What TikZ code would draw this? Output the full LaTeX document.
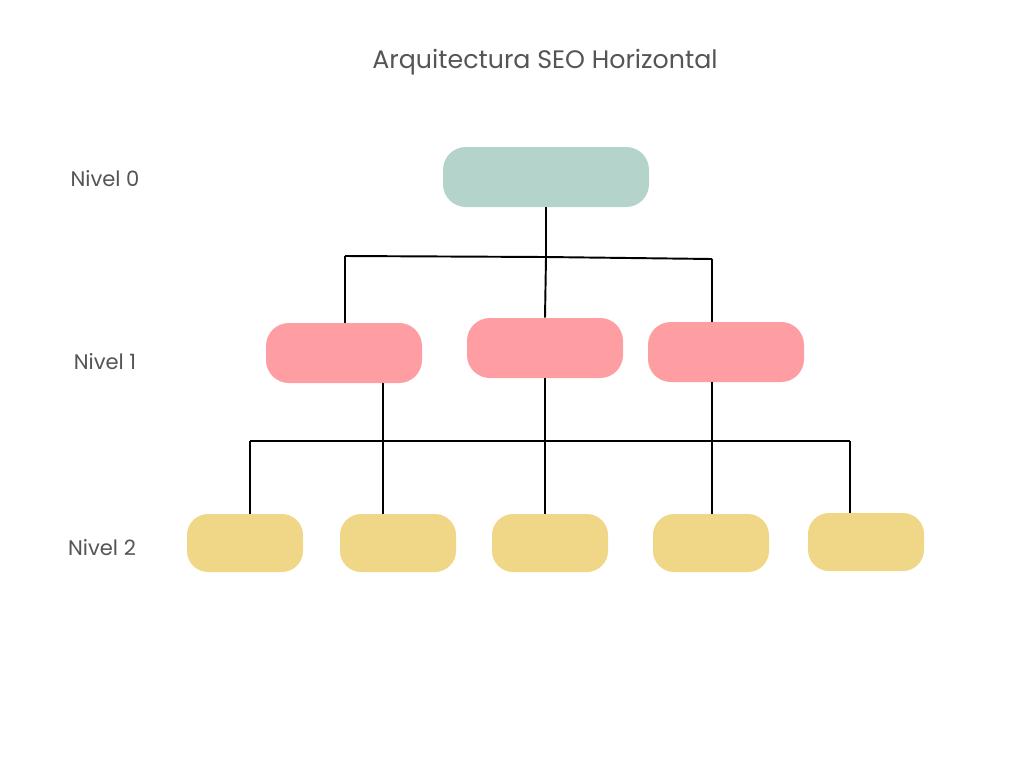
\documentclass[tikz,border=0pt]{standalone}
\usepackage{fontspec}
\setmainfont{Poppins}
\usepackage{xcolor}
\usetikzlibrary{positioning,calc}
\definecolor{tealbox}{HTML}{B4D4CB}
\definecolor{pinkbox}{HTML}{FF9EA2}
\definecolor{yellowbox}{HTML}{F0D687}
\definecolor{labelgray}{HTML}{555555}
\begin{document}
\begin{tikzpicture}[
    x=0.02cm, y=-0.02cm,
    pill/.style={rectangle, rounded corners=13pt, draw=none, minimum width=#1*0.02cm},
    top/.style={pill=206, fill=tealbox, minimum height=1.2cm},
    mid/.style={pill=156, fill=pinkbox, minimum height=1.2cm},
    low/.style={pill=116, fill=yellowbox, minimum height=1.16cm, rounded corners=12pt},
    level/.style={font=\large, text=labelgray},
    link/.style={line width=1.1pt, black}
]
    \useasboundingbox (0,0) rectangle (1024,768);
    % title and level labels
    \node[font=\Large, text=labelgray] (title) at (545,62) {Arquitectura SEO Horizontal};
    \node[level] (lv0) at (105,179) {Nivel 0};
    \node[level] (lv1) at (105,362) {Nivel 1};
    \node[level] (lv2) at (102,548) {Nivel 2};

    % boxes
    \node[top] (root) at (546,177) {};
    \node[mid] (m1) at (344,353) {};
    \node[mid] (m2) at (545,348) {};
    \node[mid] (m3) at (726,352) {};
    \node[low] (b1) at (245,543) {};
    \node[low] (b2) at (398,543) {};
    \node[low] (b3) at (550,543) {};
    \node[low] (b4) at (711,543) {};
    \node[low] (b5) at (866,542) {};

    % first bar
    \coordinate (j1) at (345,256);
    \coordinate (j2) at (546,257);
    \coordinate (j3) at (712,259);
    \draw[link] (root.south) -- (j2);
    \draw[link] (j1) -- (j2) -- (j3);
    \draw[link] (j1) -- (345,323);
    \draw[link] (j2) -- (m2.north);
    \draw[link] (j3) -- (712,322);

    % second bar
    \coordinate (k1) at (250,441);
    \coordinate (k5) at (850,441);
    \draw[link] (k1) -- (k5);
    \draw[link] (k1) -- (250,514);
    \draw[link] (383,383) -- (383,514);
    \draw[link] (m2.south) -- (545,514);
    \draw[link] (712,382) -- (712,514);
    \draw[link] (k5) -- (850,513);
\end{tikzpicture}
\end{document}
